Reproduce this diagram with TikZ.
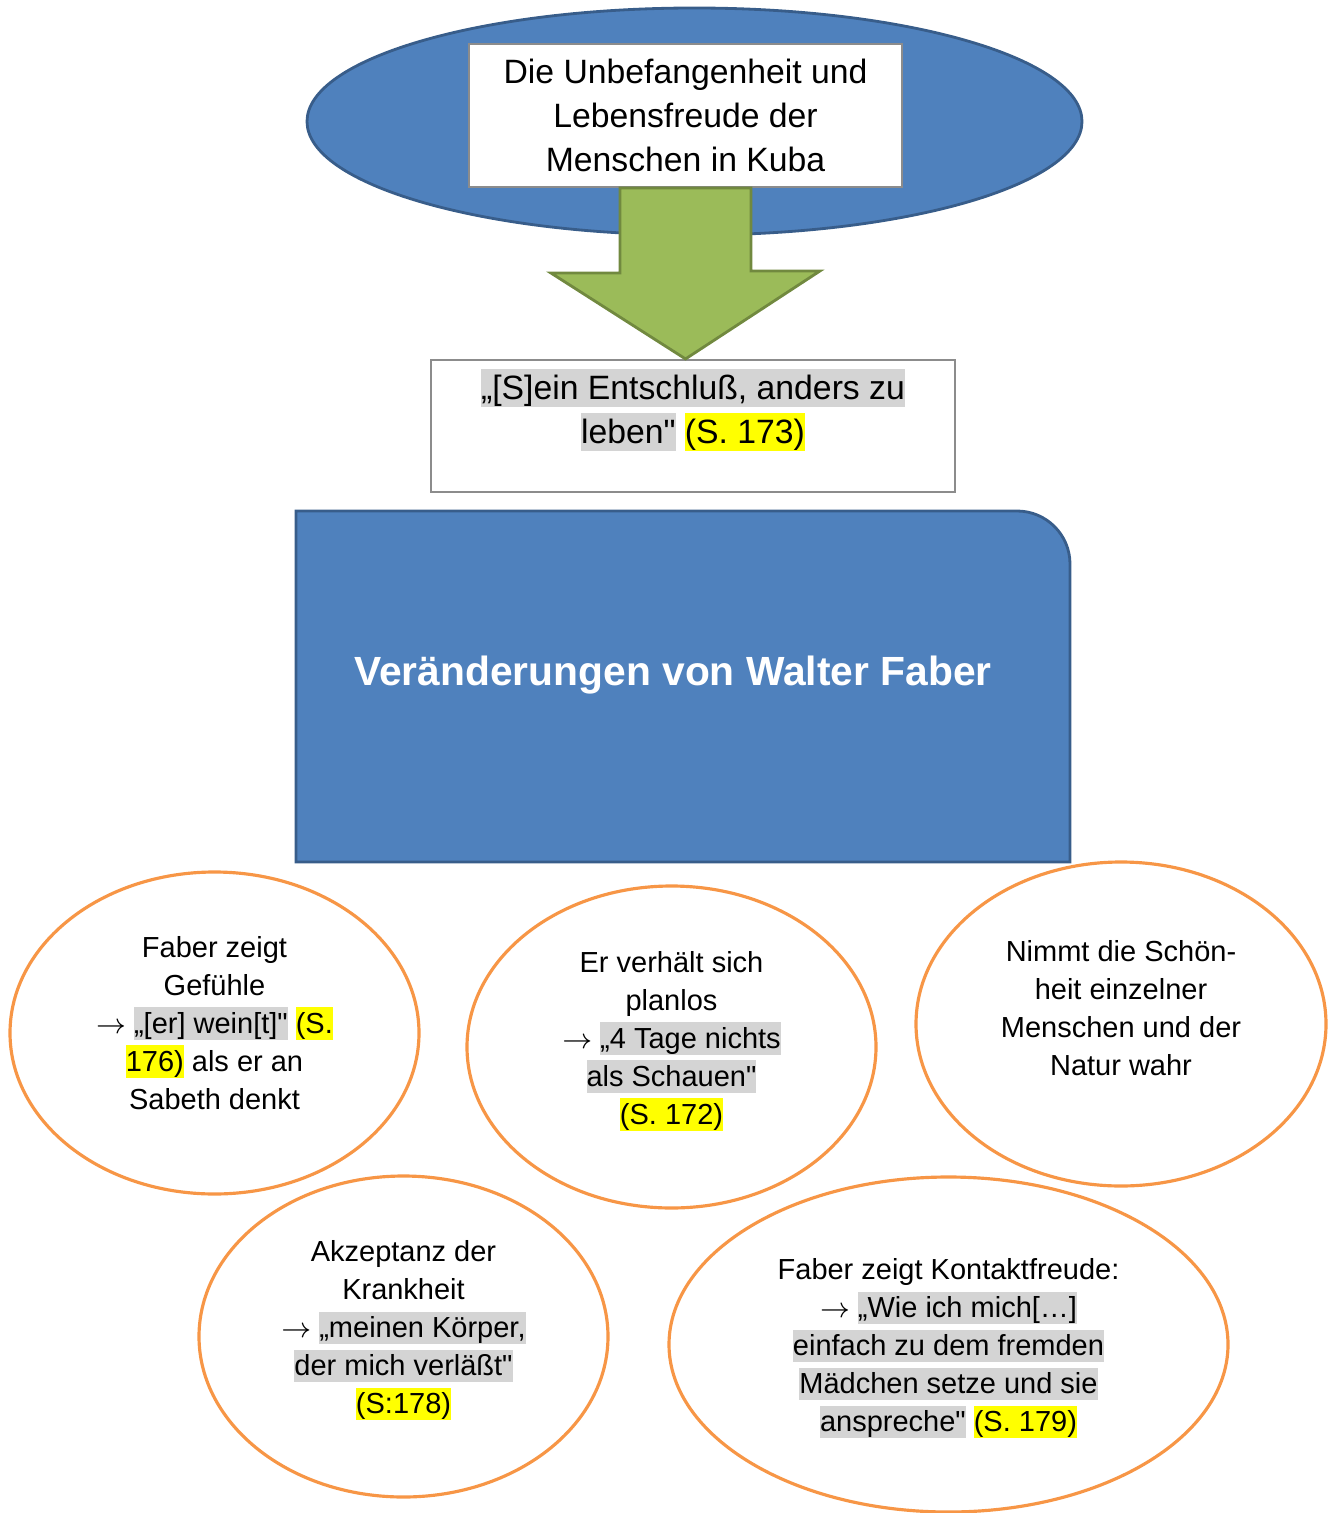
\documentclass[tikz,border=0pt]{standalone}
\usepackage{fontspec}
\setmainfont{Liberation Sans}[Ligatures=TeXOff]
\usetikzlibrary{shapes.geometric,calc}

\definecolor{ovalblue}{HTML}{4F81BD}
\definecolor{ovalline}{HTML}{385D8A}
\definecolor{arrowgreen}{HTML}{9BBB59}
\definecolor{arrowline}{HTML}{71893F}
\definecolor{ringorange}{HTML}{F79646}
\definecolor{markgray}{HTML}{D4D4D4}
\definecolor{markyellow}{HTML}{FFFF00}
\definecolor{boxline}{HTML}{8C8C8C}

\newcommand{\grayhl}[1]{{\setlength{\fboxsep}{0pt}\colorbox{markgray}{\rule[-0.22em]{0pt}{1.12em}#1}}}
\newcommand{\yellowhl}[1]{{\setlength{\fboxsep}{0pt}\colorbox{markyellow}{\rule[-0.22em]{0pt}{1.12em}#1}}}
\newcommand{\pfeil}{$\rightarrow$}

\begin{document}
\begin{tikzpicture}[
		every node/.style={font=\fontsize{9.6}{12.5}\selectfont},
		textbox/.style={draw=boxline, line width=0.6pt, fill=white, inner sep=0pt},
		ring/.style={ellipse, draw=ringorange, line width=0.9pt, fill=white, inner sep=0pt},
		ringtext/.style={align=center, font=\fontsize{8.25}{10.8}\selectfont}
	]
			\useasboundingbox (0,0) rectangle (13.33,-15.13);

			% oben
			\node[ellipse, fill=ovalblue, draw=ovalline, line width=0.8pt, minimum width=7.75cm, minimum height=2.27cm] (oval) at (6.945,-1.215) {};
			\node[textbox, minimum width=4.33cm, minimum height=1.43cm, align=center] (kuba) at (6.855,-1.155) {Die Unbefangenheit und\\Lebensfreude der\\Menschen in Kuba};

			\node[textbox, minimum width=5.24cm, minimum height=1.32cm] (entschluss) at (6.93,-4.26) {};
			\node[align=center] (zitat) at (6.93,-4.10) {\grayhl{„[S]ein Entschluß, anders zu}\\\grayhl{leben"} \yellowhl{(S. 173)}};

			\draw[fill=arrowgreen, draw=arrowline, line width=0.8pt]
				([xshift=-6.55mm]kuba.south) -- ++(0,-0.85) -- ++(-0.69,0)
				-- (kuba.south |- entschluss.north) -- ++(1.345,0.88) -- ++(-0.69,0)
				-- ([xshift=6.55mm]kuba.south) -- cycle;

			% mitte
			\fill[ovalblue, draw=ovalline, line width=0.8pt] (2.96,-8.62) -- (2.96,-5.11) -- (10.17,-5.11)
				arc[start angle=90, end angle=0, radius=0.53] -- (10.70,-8.62) -- cycle;
			\node[text=white, font=\bfseries\fontsize{11.6}{14}\selectfont] (faber) at (6.73,-6.75) {Veränderungen von Walter Faber};

			% unten
			\node[ring, minimum width=4.09cm, minimum height=3.22cm, label={[ringtext, yshift=1.0mm]center:{Faber zeigt\\Gefühle\\\pfeil\ \grayhl{„[er] wein[t]"} \yellowhl{(S.}\\\yellowhl{176)} als er an\\Sabeth denkt}}] (gefuehle) at (2.145,-10.33) {};
			\node[ring, minimum width=4.09cm, minimum height=3.22cm, label={[ringtext, yshift=0.6mm]center:{Er verhält sich\\planlos\\\pfeil\ \grayhl{„4 Tage nichts}\\\grayhl{als Schauen"}\\\yellowhl{(S. 172)}}}] (planlos) at (6.715,-10.47) {};
			\node[ring, minimum width=4.10cm, minimum height=3.24cm, label={[ringtext, yshift=1.6mm]center:{Nimmt die Schön-\\heit einzelner\\Menschen und der\\Natur wahr}}] (natur) at (11.21,-10.24) {};
			\node[ring, minimum width=4.09cm, minimum height=3.21cm, label={[ringtext, yshift=0.6mm]center:{Akzeptanz der\\Krankheit\\\pfeil\ \grayhl{„meinen Körper,}\\\grayhl{der mich verläßt"}\\\yellowhl{(S:178)}}}] (krankheit) at (4.035,-13.365) {};
			\node[ring, minimum width=5.59cm, minimum height=3.35cm, label={[ringtext, yshift=-0.4mm]center:{Faber zeigt Kontaktfreude:\\\pfeil\ \grayhl{„Wie ich mich[…]}\\\grayhl{einfach zu dem fremden}\\\grayhl{Mädchen setze und sie}\\\grayhl{anspreche"} \yellowhl{(S. 179)}}}] (kontakt) at (9.485,-13.445) {};
		\end{tikzpicture}
\end{document}
